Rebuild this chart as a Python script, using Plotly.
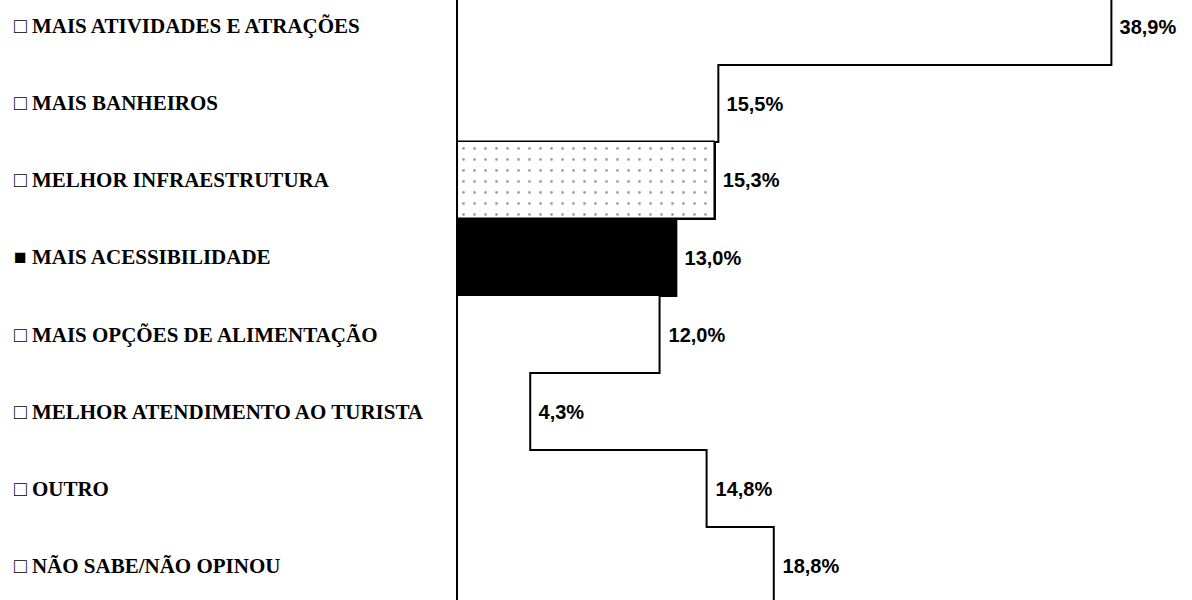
import plotly.graph_objects as go

categories = [
    "MAIS ATIVIDADES E ATRAÇÕES",
    "MAIS BANHEIROS",
    "MELHOR INFRAESTRUTURA",
    "MAIS ACESSIBILIDADE",
    "MAIS OPÇÕES DE ALIMENTAÇÃO",
    "MELHOR ATENDIMENTO AO TURISTA",
    "OUTRO",
    "NÃO SABE/NÃO OPINOU",
]
values = [38.9, 15.5, 15.3, 13.0, 12.0, 4.3, 14.8, 18.8]
fill_colors = ["white", "white", "white", "black", "white", "white", "white", "white"]
pattern_shapes = ["", "", ".", "", "", "", "", ""]
outline_widths = [0, 0, 1.5, 2, 0, 0, 0, 0]
markers = ["□", "□", "□", "■", "□", "□", "□", "□"]

positions = list(range(len(categories)))

fig = go.Figure()
fig.add_trace(go.Bar(
    x=values,
    y=positions,
    orientation="h",
    marker=dict(
        color=fill_colors,
        line=dict(color="black", width=outline_widths),
        pattern=dict(shape=pattern_shapes, fgcolor="#777777", bgcolor="white",
                     size=11, solidity=0.05),
    ),
    texttemplate=" %{x:.1f}%",
    textposition="outside",
    cliponaxis=False,
    textfont=dict(family="Liberation Sans, Arial, sans-serif", size=20, color="black", weight="bold"),
))

# stepped outline along the bar ends (bars touch each other)
step_x, step_y = [], []
for pos, val in zip(positions, values):
    step_x += [val, val]
    step_y += [pos - 0.5, pos + 0.5]
fig.add_trace(go.Scatter(
    x=step_x, y=step_y, mode="lines",
    line=dict(color="black", width=2),
    hoverinfo="skip",
))

for pos, cat, mk in zip(positions, categories, markers):
    fig.add_annotation(
        xref="paper", yref="y", x=-0.608, y=pos,
        xanchor="left", yanchor="middle", showarrow=False,
        text=f"<b>{mk} {cat}</b>",
        font=dict(family="Liberation Serif, Times New Roman, serif", size=21, color="black"),
    )

fig.update_layout(
    width=1192, height=600,
    margin=dict(l=458, r=0, t=0, b=0, autoexpand=False),
    paper_bgcolor="white", plot_bgcolor="white",
    separators=",.",
    bargap=0,
    showlegend=False,
    xaxis=dict(range=[0, 43.7], visible=False),
    yaxis=dict(
        range=[7.448, -0.344],
        showticklabels=False, ticks="",
        showgrid=False, zeroline=False,
        showline=True, linecolor="black", linewidth=2,
    ),
)

fig.write_html("out.html", config={"displayModeBar": False},
               post_script="document.body.style.margin='0';")
